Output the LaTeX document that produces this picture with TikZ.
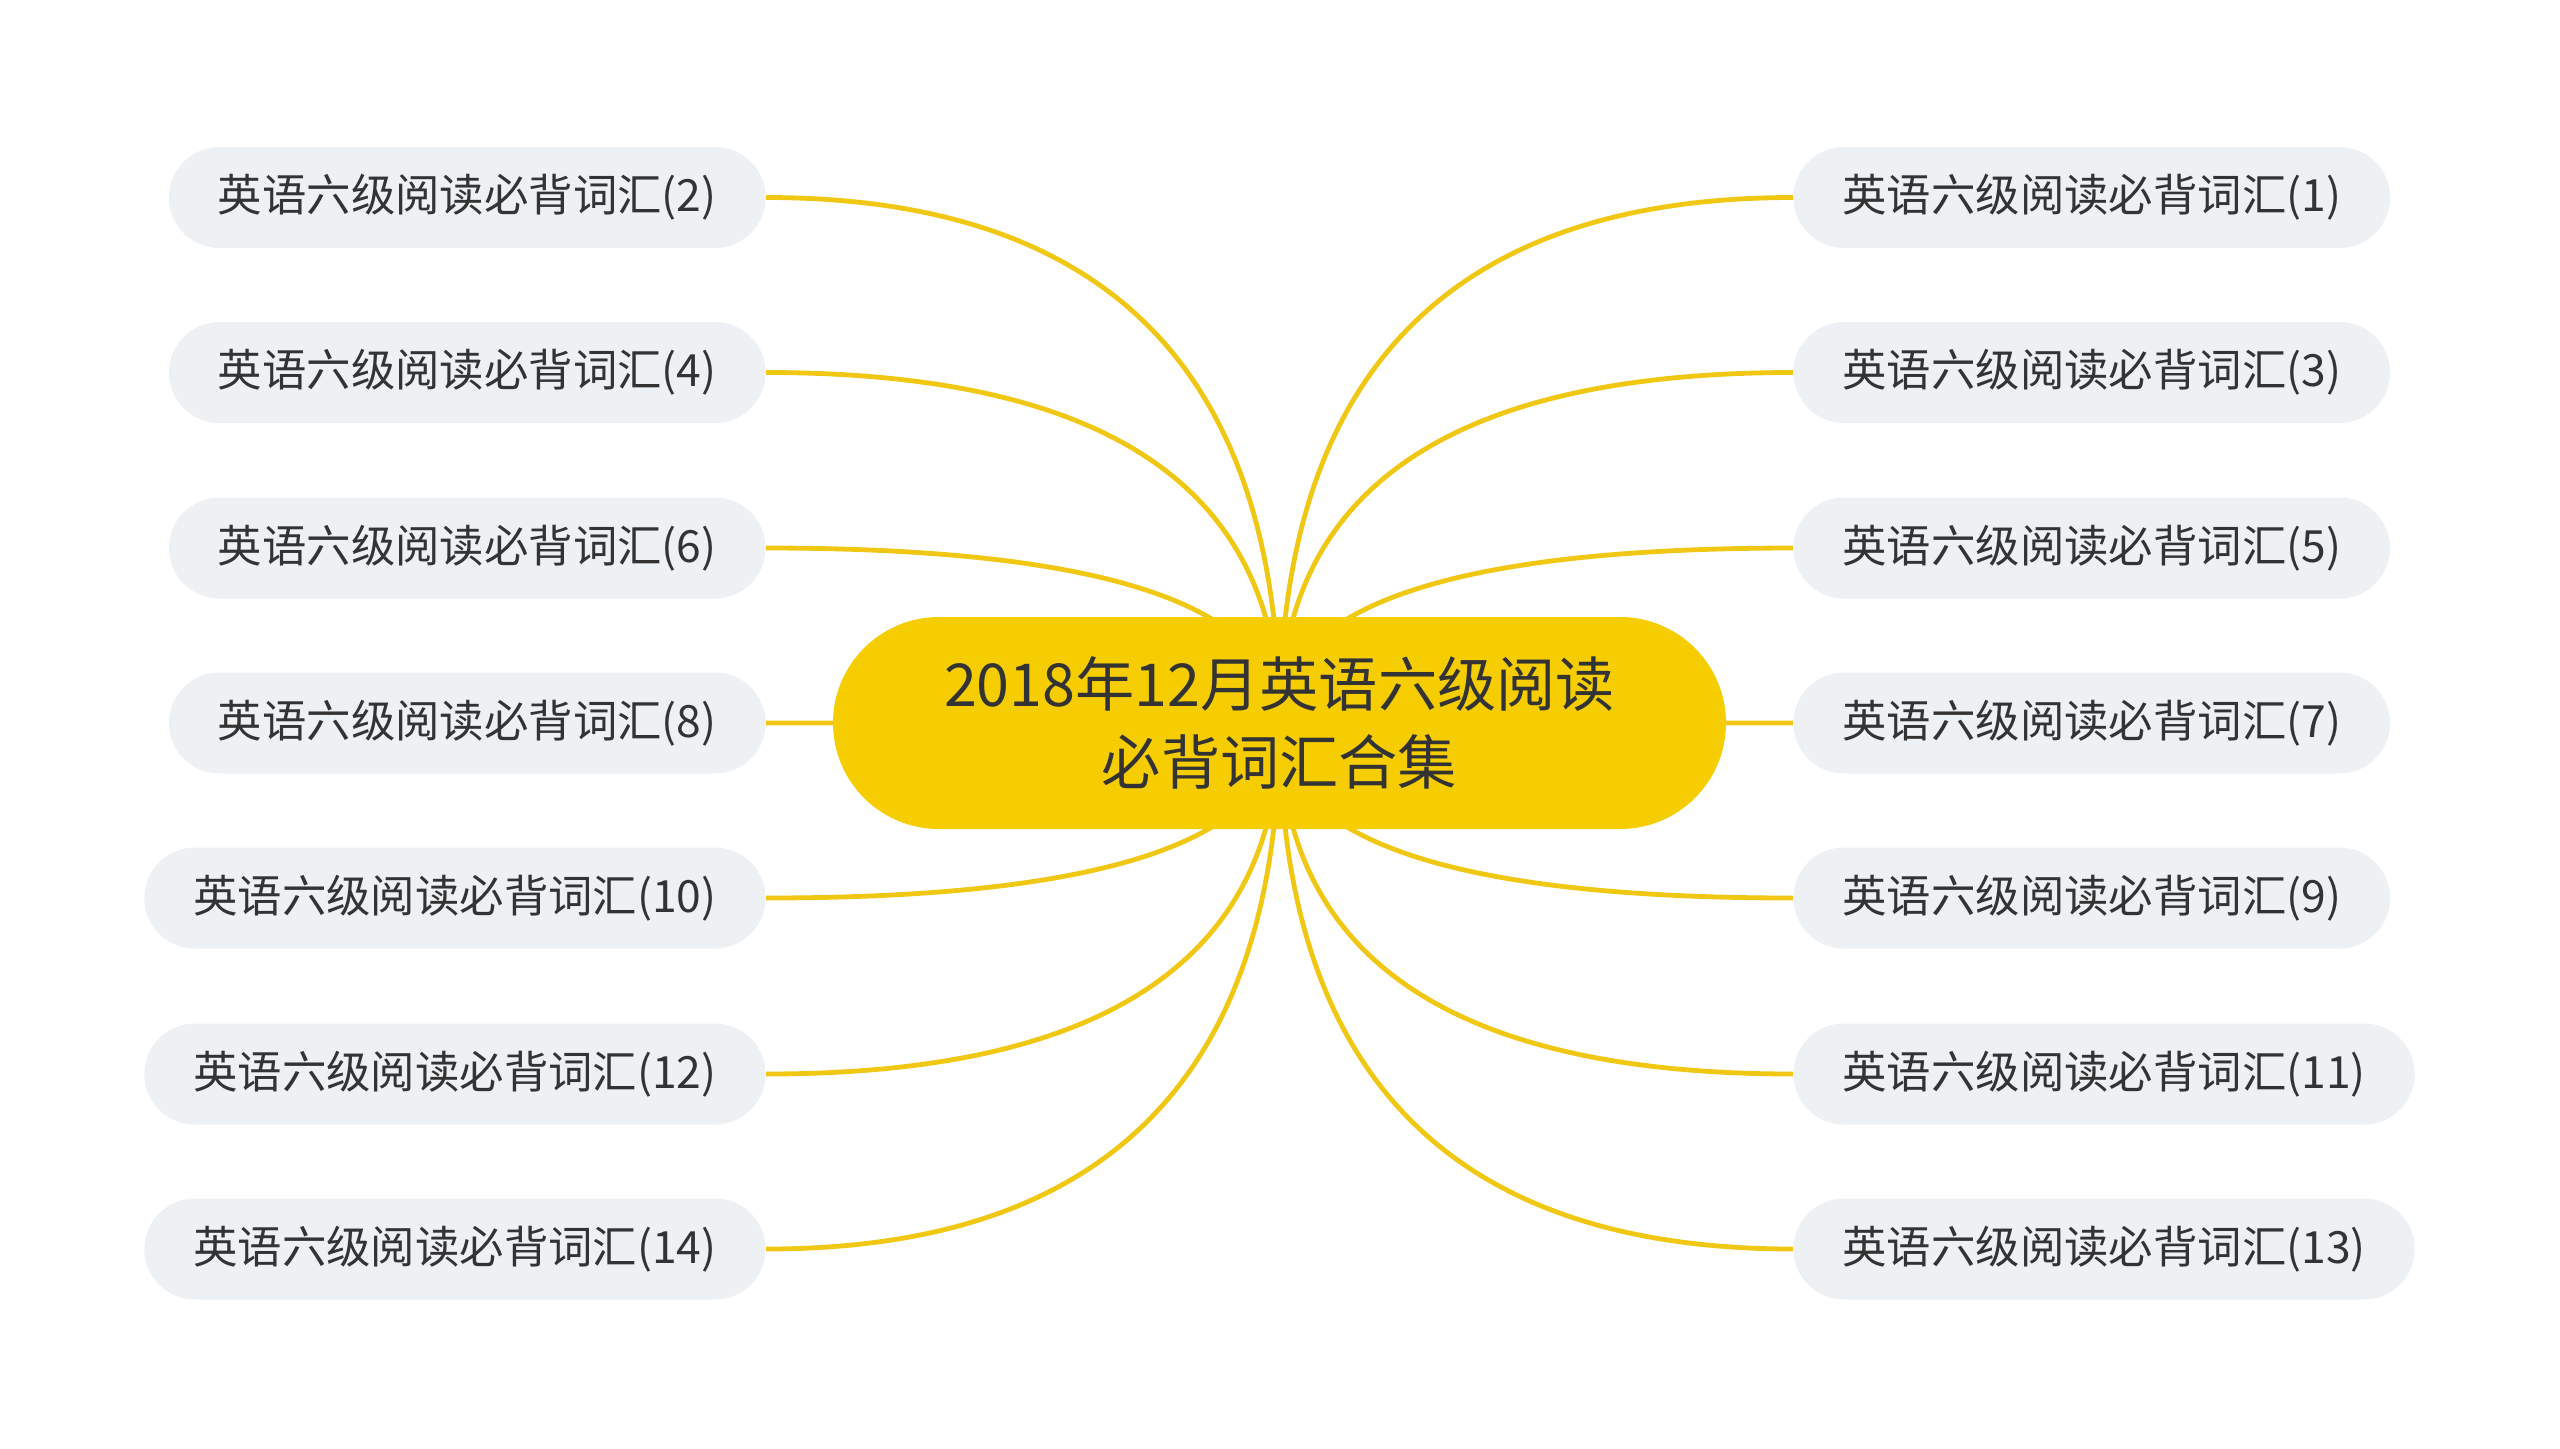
\documentclass[tikz,border=0pt]{standalone}
\usepackage{fontspec}
\setmainfont{Noto Sans CJK SC}
\usetikzlibrary{calc,backgrounds}
\definecolor{rootfill}{HTML}{F5CD00}
\definecolor{linkc}{HTML}{F0C814}
\definecolor{leaffill}{HTML}{EEF1F4}
\definecolor{txt}{HTML}{333333}
\begin{document}
\begin{tikzpicture}[x=0.5pt,y=-0.5pt,
 leaf/.style={fill=leaffill, rounded corners=25.25pt, minimum height=50.5pt, inner xsep=24.5pt, inner ysep=0pt, font=\fontsize{22.2}{26}\selectfont, text=txt},
 root/.style={fill=rootfill, rounded corners=53pt, minimum width=446.5pt, minimum height=106pt, inner ysep=0pt, align=center, font=\fontsize{29.6}{39}\selectfont, text=txt},
 link/.style={draw=linkc, line width=2.4pt}]
\useasboundingbox (0,0) rectangle (2560,1448);
\node[root] (r) at (1279.5,723) {2018年12月英语六级阅读\\必背词汇合集};
% left side
\node[leaf, anchor=east] (n2) at (766,197.5) {英语六级阅读必背词汇(2)};
\node[leaf, anchor=east] (n4) at (766,372.5) {英语六级阅读必背词汇(4)};
\node[leaf, anchor=east] (n6) at (766,548) {英语六级阅读必背词汇(6)};
\node[leaf, anchor=east] (n8) at (766,723) {英语六级阅读必背词汇(8)};
\node[leaf, anchor=east] (n10) at (766,898) {英语六级阅读必背词汇(10)};
\node[leaf, anchor=east] (n12) at (766,1074) {英语六级阅读必背词汇(12)};
\node[leaf, anchor=east] (n14) at (766,1249) {英语六级阅读必背词汇(14)};
% right side
\node[leaf, anchor=west] (n1) at (1793,197.5) {英语六级阅读必背词汇(1)};
\node[leaf, anchor=west] (n3) at (1793,372.5) {英语六级阅读必背词汇(3)};
\node[leaf, anchor=west] (n5) at (1793,548) {英语六级阅读必背词汇(5)};
\node[leaf, anchor=west] (n7) at (1793,723) {英语六级阅读必背词汇(7)};
\node[leaf, anchor=west] (n9) at (1793,898) {英语六级阅读必背词汇(9)};
\node[leaf, anchor=west] (n11) at (1793,1074) {英语六级阅读必背词汇(11)};
\node[leaf, anchor=west] (n13) at (1793,1249) {英语六级阅读必背词汇(13)};
\begin{pgfonlayer}{background}
\fill[white] (0,0) rectangle (2560,1448);
\foreach \n in {n2,n4,n6,n8,n10,n12,n14} {
  \coordinate (c\n) at (r.center |- \n.east);
  \draw[link] (\n.east) .. controls ($(\n.east)!0.6667!(c\n)$) and ($(r.center)!0.6667!(c\n)$) .. (r.center);
}
\foreach \n in {n1,n3,n5,n7,n9,n11,n13} {
  \coordinate (c\n) at (r.center |- \n.west);
  \draw[link] (\n.west) .. controls ($(\n.west)!0.6667!(c\n)$) and ($(r.center)!0.6667!(c\n)$) .. (r.center);
}
\end{pgfonlayer}
\end{tikzpicture}
\end{document}
